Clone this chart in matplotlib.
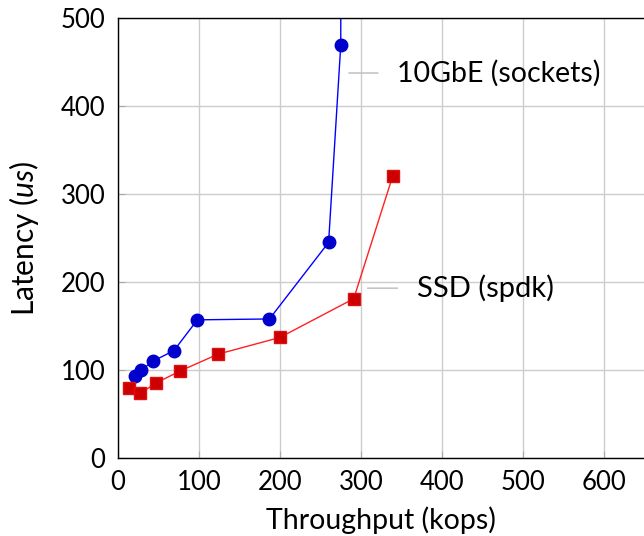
import matplotlib
matplotlib.use("Agg")
import matplotlib.pyplot as plt

# 10GbE (sockets): throughput (kops) vs latency (us); last point goes off the top
net_x = [21, 29, 43, 69, 98, 187, 260, 275, 276]
net_y = [93, 100, 110, 122, 157, 158, 245, 469, 1000]

# SSD (spdk)
ssd_x = [14, 27.5, 46.5, 77, 123.5, 200, 291, 339]
ssd_y = [79, 73.5, 85, 99, 118, 137, 181, 320]

xticks = [0, 100, 200, 300, 400, 500, 600]
yticks = [0, 100, 200, 300, 400, 500]

plt.rcParams['font.family'] = ['Lato', 'DejaVu Sans']
plt.rcParams['mathtext.fontset'] = 'custom'
plt.rcParams['mathtext.it'] = 'Lato:italic'
plt.rcParams['mathtext.rm'] = 'Lato'

fig = plt.figure(figsize=(6.44, 5.36), dpi=100)
ax = fig.add_axes([118 / 644, 78 / 536, 526.5 / 644, 440 / 536])

ax.plot(net_x, net_y, color='#0000ff', lw=1.0, marker='o', markersize=9,
        markerfacecolor='#0000cc', markeredgecolor='#0000cc')
ax.plot(ssd_x, ssd_y, color='#ff2020', lw=1.0, marker='s', markersize=8.5,
        markerfacecolor='#cc0000', markeredgecolor='#e01010')

ax.set_xlim(0, 650)
ax.set_ylim(0, 500)
ax.set_xticks(xticks)
ax.set_yticks(yticks)
ax.grid(True, color='#cccccc', lw=1.0)
ax.set_axisbelow(True)
ax.tick_params(direction='in', length=5, color='#aaaaaa', labelsize=18.5,
               top=False, right=False, pad=9)
for s in ['left', 'bottom', 'top']:
    ax.spines[s].set_linewidth(1.0)
ax.spines['right'].set_visible(False)

ax.set_xlabel('Throughput (kops)', fontsize=20.5, labelpad=8)
ax.set_ylabel('Latency ($\\mathit{us}$)', fontsize=21.5, labelpad=14)

# pin-style labels
ax.annotate('10GbE (sockets)', xy=(285, 437.5), xytext=(345, 437.5),
            fontsize=20.5, va='center', ha='left',
            arrowprops=dict(arrowstyle='-', color='#bbbbbb', lw=1.0,
                            shrinkA=12, shrinkB=0))
ax.annotate('SSD (spdk)', xy=(308, 193), xytext=(369, 193),
            fontsize=21, va='center', ha='left',
            arrowprops=dict(arrowstyle='-', color='#bbbbbb', lw=1.0,
                            shrinkA=12, shrinkB=0))

fig.savefig('out.png', dpi=100)
